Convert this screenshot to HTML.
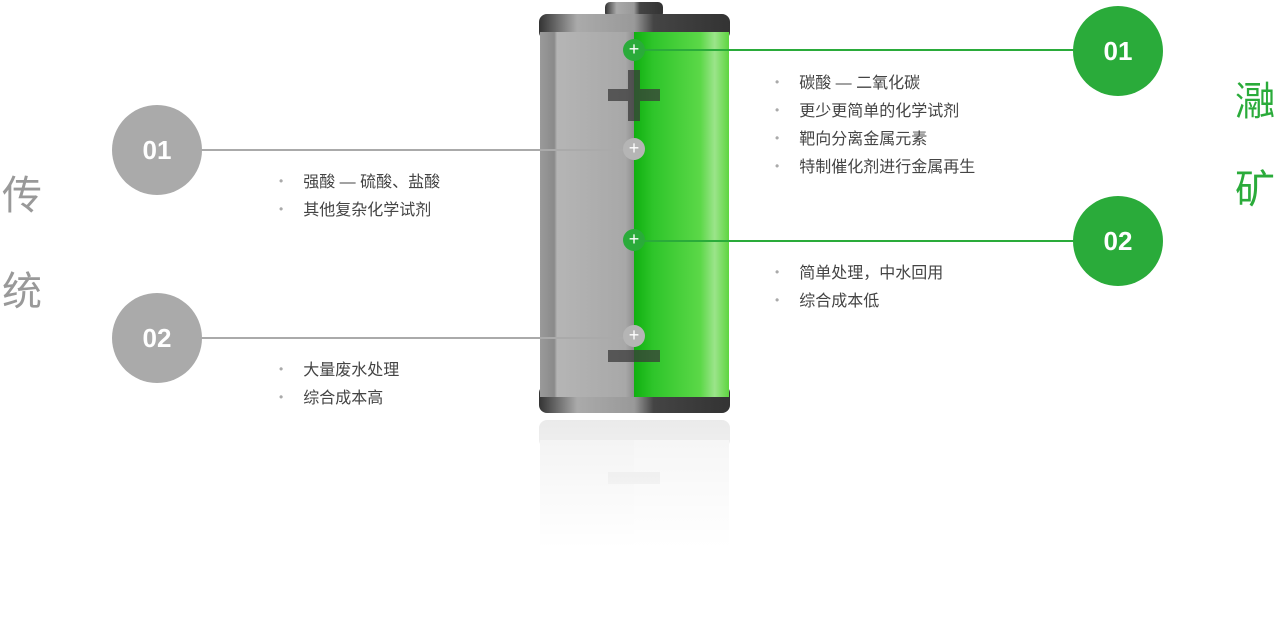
<!DOCTYPE html>
<html><head><meta charset="utf-8"><style>
body{margin:0;width:1280px;height:635px;background:#fff;position:relative;overflow:hidden;font-family:"Liberation Sans","Noto Sans CJK SC",sans-serif}
.a{position:absolute}
.c{position:absolute;width:90px;height:90px;border-radius:50%;color:#fff;font-weight:bold;font-size:26px;line-height:90px;text-align:center}
.g{background:#aaa}.gr{background:#2aab3a}
.l{position:absolute;height:2px}
ul{position:absolute;margin:0;padding:0;list-style:none;font-size:16px;color:#444;line-height:28px}
li:before{content:"•";color:#aaa;font-size:12px;margin-right:20px;position:relative;top:-2px}
.v{position:absolute;font-size:40px;line-height:48px}
.k{position:absolute;width:22px;height:22px;border-radius:50%;color:#fff;font-size:18px;line-height:21px;text-align:center}
</style></head><body>
<div class="v" style="left:2px;top:172px;color:#999">传</div>
<div class="v" style="left:2px;top:268px;color:#999">统</div>
<div class="v" style="left:1235px;top:78px;color:#2aab3a">瀜</div>
<div class="v" style="left:1235px;top:166px;color:#2aab3a">矿</div>

<svg class="a" style="left:0;top:0" width="1280" height="635">
<defs>
<linearGradient id="gy" x1="0" x2="1"><stop offset="0" stop-color="#9a9a9a"/><stop offset=".15" stop-color="#8a8a8a"/><stop offset=".18" stop-color="#b5b5b5"/><stop offset=".9" stop-color="#a8a8a8"/><stop offset="1" stop-color="#8c8c8c"/></linearGradient>
<linearGradient id="gn" x1="0" x2="1"><stop offset="0" stop-color="#10b010"/><stop offset=".2" stop-color="#2ec52a"/><stop offset=".7" stop-color="#5cd848"/><stop offset=".85" stop-color="#9be48a"/><stop offset="1" stop-color="#5ed540"/></linearGradient>
<linearGradient id="cap" x1="0" x2="1"><stop offset="0" stop-color="#333"/><stop offset=".2" stop-color="#aaa"/><stop offset=".5" stop-color="#999"/><stop offset=".6" stop-color="#444"/><stop offset="1" stop-color="#333"/></linearGradient>
<linearGradient id="fade" x1="0" y1="0" x2="0" y2="1"><stop offset="0" stop-color="#fff" stop-opacity=".4"/><stop offset=".6" stop-color="#fff" stop-opacity="1"/></linearGradient>
</defs>
<rect x="605" y="2" width="58" height="16" rx="5" fill="url(#cap)"/>
<rect x="539" y="14" width="191" height="26" rx="8" fill="url(#cap)"/>
<rect x="539" y="385" width="191" height="28" rx="8" fill="url(#cap)"/>
<rect x="540" y="32" width="95" height="365" fill="url(#gy)"/>
<rect x="634" y="32" width="95" height="365" fill="url(#gn)"/>
<rect x="608" y="89" width="52" height="12" fill="#3a3a3a" opacity=".75"/>
<rect x="628" y="70" width="12" height="19" fill="#3a3a3a" opacity=".75"/>
<rect x="628" y="101" width="12" height="20" fill="#3a3a3a" opacity=".75"/>
<rect x="608" y="350" width="52" height="12" fill="#3a3a3a" opacity=".75"/>
<g opacity=".25"><rect x="539" y="420" width="191" height="28" rx="8" fill="#777"/><rect x="540" y="440" width="95" height="170" fill="#aaa"/><rect x="634" y="440" width="95" height="170" fill="#bbb"/><rect x="608" y="472" width="52" height="12" fill="#555"/></g>
<rect x="530" y="418" width="210" height="217" fill="url(#fade)"/>
</svg>

<div class="l" style="left:200px;top:149px;width:425px;background:#aaa"></div>
<div class="l" style="left:200px;top:337px;width:425px;background:#aaa"></div>
<div class="l" style="left:642px;top:49px;width:440px;background:#2aab3a"></div>
<div class="l" style="left:642px;top:240px;width:440px;background:#2aab3a"></div>

<div class="k gr" style="left:623px;top:39px">+</div>
<div class="k g" style="left:623px;top:138px;background:#b5b5b5">+</div>
<div class="k gr" style="left:623px;top:229px">+</div>
<div class="k g" style="left:623px;top:325px;background:#b5b5b5">+</div>

<div class="c g" style="left:112px;top:105px">01</div>
<div class="c g" style="left:112px;top:293px">02</div>
<div class="c gr" style="left:1073px;top:6px">01</div>
<div class="c gr" style="left:1073px;top:196px">02</div>

<ul style="left:279px;top:169px"><li>强酸 — 硫酸、盐酸</li><li>其他复杂化学试剂</li></ul>
<ul style="left:279px;top:357px"><li>大量废水处理</li><li>综合成本高</li></ul>
<ul style="left:775px;top:70px"><li>碳酸 — 二氧化碳</li><li>更少更简单的化学试剂</li><li>靶向分离金属元素</li><li>特制催化剂进行金属再生</li></ul>
<ul style="left:775px;top:260px"><li>简单处理，中水回用</li><li>综合成本低</li></ul>
</body></html>
